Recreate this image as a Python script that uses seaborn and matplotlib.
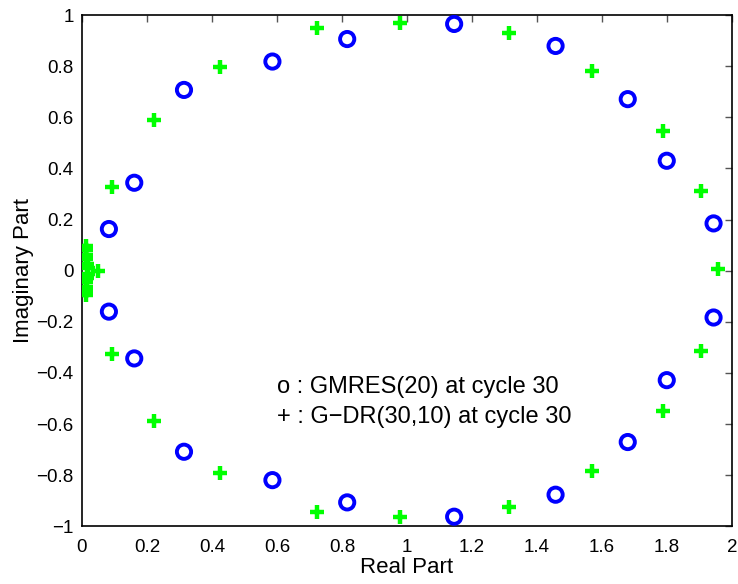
import numpy as np
import pandas as pd
import matplotlib
matplotlib.use("Agg")
import matplotlib.pyplot as plt
import seaborn as sns
from matplotlib.ticker import FuncFormatter, MultipleLocator

# GMRES(20) harmonic Ritz values (blue circles)
gmres_re = [0.083, 0.161, 0.314, 0.586, 0.816, 1.145, 1.457, 1.679, 1.799, 1.943,
            1.943, 1.799, 1.679, 1.457, 1.145, 0.816, 0.586, 0.314, 0.161, 0.083]
gmres_im = [0.163, 0.344, 0.707, 0.818, 0.906, 0.965, 0.879, 0.671, 0.430, 0.185,
            -0.183, -0.428, -0.670, -0.876, -0.962, -0.906, -0.819, -0.708, -0.343, -0.160]

# G-DR(30,10) values (green plusses)
gdr_re = [0.091, 0.221, 0.425, 0.723, 0.978, 1.315, 1.568, 1.786, 1.905, 1.958,
          1.905, 1.786, 1.568, 1.315, 0.978, 0.723, 0.425, 0.221, 0.091,
          0.049,
          0.012, 0.013, 0.012, 0.014, 0.016, 0.018, 0.018, 0.016, 0.014, 0.012, 0.013, 0.012]
gdr_im = [0.326, 0.589, 0.795, 0.948, 0.970, 0.928, 0.782, 0.548, 0.313, 0.005,
          -0.313, -0.548, -0.782, -0.925, -0.965, -0.943, -0.793, -0.588, -0.326,
          0.0,
          0.095, 0.080, 0.062, 0.045, 0.028, 0.012, -0.012, -0.028, -0.045, -0.062, -0.080, -0.095]

label_gmres = "o : GMRES(20) at cycle 30"
label_gdr = "+ : G\u2212DR(30,10) at cycle 30"

sns.set_style("white")
plt.rcParams['font.family'] = ['Liberation Sans', 'DejaVu Sans']
plt.rcParams['text.color'] = 'black'
plt.rcParams['axes.labelcolor'] = 'black'

fig = plt.figure(figsize=(7.38, 5.84), dpi=100)
ax = fig.add_axes([0.111, 0.0986, 0.881, 0.8757])

df_g = pd.DataFrame({"re": gmres_re, "im": gmres_im})
df_d = pd.DataFrame({"re": gdr_re, "im": gdr_im})

sns.scatterplot(data=df_d, x="re", y="im", ax=ax, marker="+", s=100,
                color="#00ff00", linewidth=3.2, legend=False, zorder=3)
sns.scatterplot(data=df_g, x="re", y="im", ax=ax, marker="o", s=105,
                facecolor="none", edgecolor="#0000ff", linewidth=2.8, legend=False, zorder=4)

ax.set_xlim(0, 2)
ax.set_ylim(-1, 1)
ax.xaxis.set_major_locator(MultipleLocator(0.2))
ax.yaxis.set_major_locator(MultipleLocator(0.2))
def _fmt(v, p):
    if abs(v) < 1e-9:
        return "0"
    return ("%g" % round(v, 6)).replace("-", "\u2212")
ax.xaxis.set_major_formatter(FuncFormatter(_fmt))
ax.yaxis.set_major_formatter(FuncFormatter(_fmt))
ax.tick_params(direction="in", length=5, width=1, colors="#555555", labelcolor="black",
               labelsize=13.5, top=True, right=True)
ax.tick_params(axis="x", pad=9)
ax.tick_params(axis="y", pad=6)
for s in ax.spines.values():
    s.set_color("black")
    s.set_linewidth(1.2)

ax.set_xlabel("Real Part", fontsize=16, labelpad=1)
ax.set_ylabel("Imaginary Part", fontsize=16, labelpad=2)

ax.text(0.6, -0.455, label_gmres, fontsize=17, va="center", ha="left")
ax.text(0.6, -0.572, label_gdr, fontsize=17, va="center", ha="left")

fig.savefig("out.png", dpi=100)
